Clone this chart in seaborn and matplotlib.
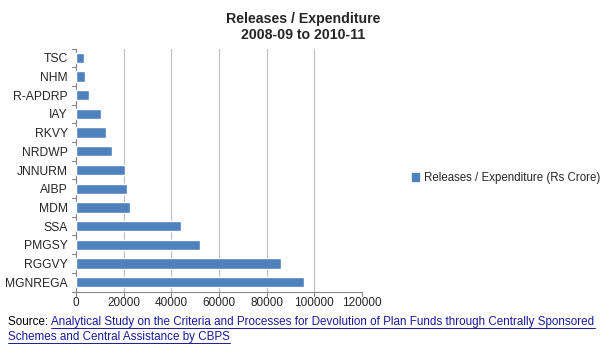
import matplotlib
matplotlib.use("Agg")
import matplotlib.pyplot as plt
import seaborn as sns
import pandas as pd
from matplotlib.lines import Line2D
from matplotlib.patches import Patch

schemes = ["TSC", "NHM", "R-APDRP", "IAY", "RKVY", "NRDWP", "JNNURM",
           "AIBP", "MDM", "SSA", "PMGSY", "RGGVY", "MGNREGA"]
values = [3500, 3600, 5600, 10500, 12700, 15000, 20700,
          21500, 22700, 44200, 52200, 86000, 95600]
xticks = [0, 20000, 40000, 60000, 80000, 100000, 120000]
series_name = "Releases / Expenditure (Rs Crore)"
title_text = "Releases / Expenditure\n2008-09 to 2010-11"
source_label = "Source: "
source_line1 = "Analytical Study on the Criteria and Processes for Devolution of Plan Funds through Centrally Sponsored"
source_line2 = "Schemes and Central Assistance by CBPS"

sns.set_style("white")
plt.rcParams['font.family'] = ['Liberation Sans', 'DejaVu Sans']

df = pd.DataFrame({"scheme": schemes, "value": values})
bar_color = "#4F81BD"
grid_color = "#BFBFBF"
axis_color = "#868686"

fig = plt.figure(figsize=(6.02, 3.55), dpi=100)
ax = fig.add_axes([76/602, 1 - 291.5/355, (362-76)/602, (291.5-48.5)/355])

sns.barplot(data=df, y="scheme", x="value", order=schemes, orient="h",
            color=bar_color, width=0.55, saturation=1, ax=ax, zorder=3)

n = len(schemes)
ax.set_xticks(xticks)
ax.set_xticklabels([str(t) for t in xticks], fontsize=8.5)
ax.set_xlabel("")
ax.set_ylabel("")
ax.tick_params(axis='y', labelsize=8.7, length=0, pad=6)
ax.tick_params(axis='x', length=0, pad=4)
ax.xaxis.grid(True, color=grid_color, linewidth=0.8, zorder=0)
ax.yaxis.grid(False)
for s in ["top", "right"]:
    ax.spines[s].set_visible(False)
for s in ["left", "bottom"]:
    ax.spines[s].set_color(axis_color)
    ax.spines[s].set_linewidth(0.8)

# Excel-like tick marks between categories and at x gridlines
for i in range(n + 1):
    ax.add_artist(Line2D([-0.014, 0], [i - 0.5, i - 0.5], transform=ax.get_yaxis_transform(),
                         color=axis_color, lw=0.8, clip_on=False))
for t in xticks:
    ax.add_artist(Line2D([t, t], [-0.02, 0], transform=ax.get_xaxis_transform(),
                         color=axis_color, lw=0.8, clip_on=False))

ax.set_xlim(0, 120000)
ax.set_ylim(n - 0.5, -0.5)

fig.text(303/602, 1 - 27/355, title_text, ha="center", va="center",
         fontsize=10.2, fontweight="bold", linespacing=1.15)

handles = [Patch(facecolor=bar_color, edgecolor=bar_color)]
fig.legend(handles, [series_name], loc="center left",
           bbox_to_anchor=(402/602, 1 - 178/355), frameon=False,
           fontsize=8.3, handlelength=0.6, handleheight=0.6, handletextpad=0.4)

link_color = "#1A1A99"
fs = 8.4
fig.canvas.draw()
renderer = fig.canvas.get_renderer()
t0 = fig.text(8/602, 1 - 322/355, source_label, ha="left", va="center", fontsize=fs, color="black")
bb0 = t0.get_window_extent(renderer)
x1 = bb0.x1 / fig.bbox.width
t1 = fig.text(x1, 1 - 322/355, source_line1, ha="left", va="center", fontsize=fs, color=link_color)
t2 = fig.text(8/602, 1 - 337/355, source_line2, ha="left", va="center", fontsize=fs, color=link_color)
for t in (t1, t2):
    bb = t.get_window_extent(renderer)
    y = (bb.y0 + 0.5) / fig.bbox.height
    fig.add_artist(Line2D([bb.x0 / fig.bbox.width, bb.x1 / fig.bbox.width], [y, y],
                          transform=fig.transFigure, color=link_color, lw=0.7))

fig.savefig("out.png", dpi=100)
